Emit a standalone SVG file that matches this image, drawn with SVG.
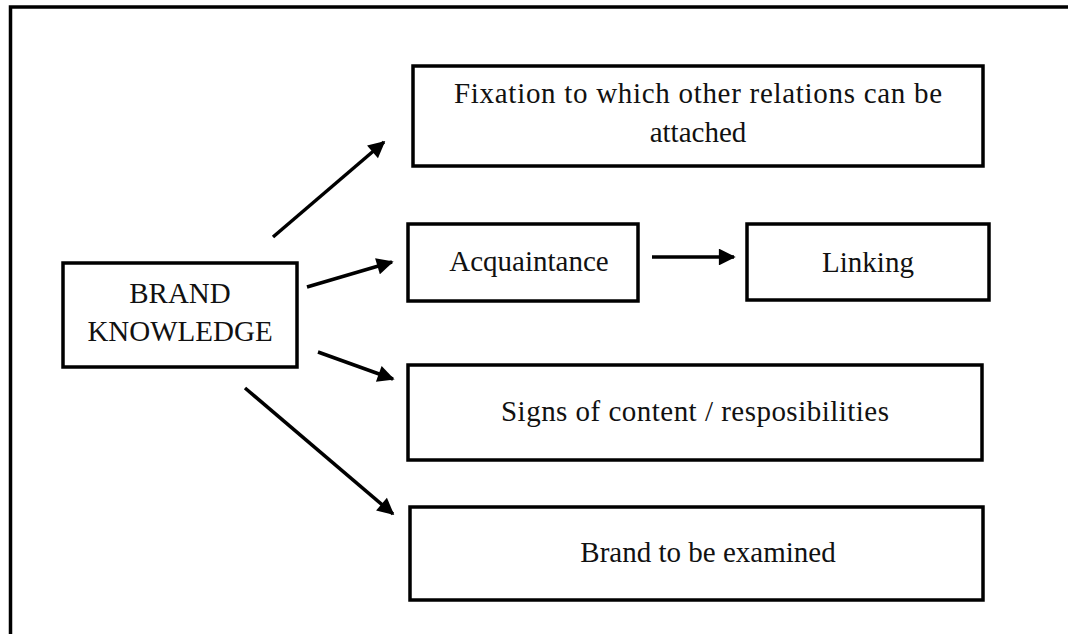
<svg xmlns="http://www.w3.org/2000/svg" width="1068" height="634" viewBox="0 0 1068 634">
<style>
.box{fill:#fff;stroke:#000;stroke-width:3.5}
.lbl{font-family:"Liberation Serif","Times New Roman",serif;font-size:29px;fill:#111;text-anchor:middle}
.con{stroke:#000;stroke-width:3.5;fill:none;marker-end:url(#ah)}
</style>
<defs>
<marker id="ah" viewBox="0 0 10 10" refX="9" refY="5" markerWidth="5.2" markerHeight="4.8" markerUnits="strokeWidth" orient="auto">
<path d="M0,0 L10,5 L0,10 Z" fill="#000"/>
</marker>
</defs>
<rect width="1068" height="634" fill="#fff"/>
<path d="M10.5,634 L10.5,7 L1068,7" fill="none" stroke="#000" stroke-width="3.5"/>
<g id="brand-knowledge">
<rect class="box" x="63" y="263" width="234" height="104"/>
<text class="lbl" x="180" y="303">BRAND</text>
<text class="lbl" x="180" y="341">KNOWLEDGE</text>
</g>
<g id="fixation">
<rect class="box" x="413" y="66" width="570" height="100"/>
<text class="lbl" x="698" y="103" textLength="488" lengthAdjust="spacing">Fixation to which other relations can be</text>
<text class="lbl" x="698" y="142">attached</text>
</g>
<g id="acquaintance">
<rect class="box" x="408" y="224" width="230" height="77"/>
<text class="lbl" x="529" y="271">Acquaintance</text>
</g>
<g id="linking">
<rect class="box" x="747" y="224" width="242" height="76"/>
<text class="lbl" x="868" y="272">Linking</text>
</g>
<g id="signs">
<rect class="box" x="408" y="365" width="574" height="95"/>
<text class="lbl" x="695" y="421" textLength="388" lengthAdjust="spacing">Signs of content / resposibilities</text>
</g>
<g id="brand-examined">
<rect class="box" x="410" y="507" width="573" height="93"/>
<text class="lbl" x="708" y="562">Brand to be examined</text>
</g>
<g id="connectors">
<line class="con" x1="273" y1="237" x2="384" y2="142"/>
<line class="con" x1="307" y1="287" x2="392" y2="262"/>
<line class="con" x1="318" y1="352" x2="393" y2="379"/>
<line class="con" x1="245" y1="388" x2="393" y2="514"/>
<line class="con" x1="652" y1="257" x2="734" y2="257"/>
</g>
</svg>
